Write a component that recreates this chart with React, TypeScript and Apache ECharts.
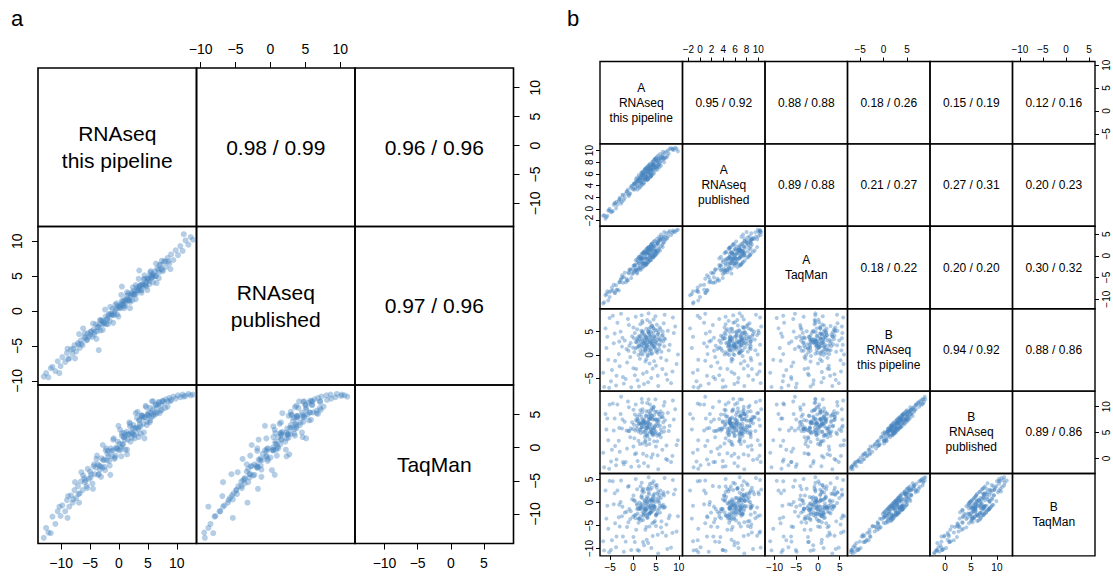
import React, { useEffect, useRef } from "react";
import * as echarts from "echarts";

const FONT = "'Liberation Sans', Arial, Helvetica, sans-serif";

// ---------- Panel a: each gene = [RNAseq this pipeline, RNAseq published, TaqMan]
const panelAGenes: number[][] = [
  [-13.0,-9.4,-13.6],[-12.6,-8.9,-12.1],[-12.2,-9.5,-12.8],[-11.5,-8.0,-10.4],[-11.0,-8.6,-11.5],
  [-10.6,-7.2,-9.6],[-10.1,-7.9,-10.3],[-9.8,-6.6,-8.7],[-9.3,-7.3,-9.6],[-9.0,-6.0,-7.9],
  [-8.6,-6.8,-8.9],[-8.3,-5.5,-7.2],[-8.0,-6.1,-8.3],[-7.7,-4.9,-6.4],[-7.4,-5.8,-7.6],
  [-7.1,-4.6,-5.8],[-6.8,-5.3,-6.9],[-6.6,-4.2,-5.1],[-6.3,-4.9,-6.4],[-6.0,-3.7,-4.6],
  [-5.8,-3.9,-4.9],[-5.6,-4.2,-5.8],[-5.4,-3.2,-3.2],[-5.2,-3.7,-4.7],[-5.0,-3.4,-3.6],
  [-4.8,-2.9,-4.0],[-4.6,-3.7,-5.4],[-4.4,-2.7,-2.8],[-4.2,-3.0,-4.0],[-4.0,-1.9,-3.0],
  [-3.8,-2.9,-1.2],[-3.6,-2.3,-4.1],[-3.4,-2.0,-2.7],[-3.2,-2.8,-2.8],[-3.0,-1.4,-1.6],
  [-2.9,-1.9,-3.0],[-2.7,-1.5,-1.9],[-2.5,-1.8,-2.9],[-2.3,-0.8,-0.4],[-2.1,-1.2,-1.9],
  [-2.0,-1.1,-0.9],[-1.8,-0.6,-1.3],[-1.6,-1.4,-2.7],[-1.4,-0.4,-0.1],[-1.2,-0.6,-1.3],
  [-1.1,0.3,-0.4],[-0.9,-0.6,1.4],[-0.7,0.0,-1.5],[-0.5,0.3,0.0],[-0.3,-0.5,-0.2],
  [-0.2,0.7,0.9],[0.0,0.4,-0.4],[0.1,0.7,0.6],[0.3,0.4,-0.3],[0.5,1.4,2.2],
  [0.6,0.9,0.5],[0.8,1.1,1.6],[1.0,1.6,1.2],[1.1,0.8,-0.3],[1.3,1.7,2.4],
  [1.5,1.5,1.2],[1.6,2.5,2.0],[1.8,1.5,3.8],[2.0,2.1,0.9],[2.1,2.3,2.3],
  [2.3,1.5,2.2],[2.5,2.9,3.4],[2.6,2.4,1.9],[2.8,2.8,3.0],[3.0,2.5,2.1],
  [3.1,3.4,4.5],[3.3,3.0,3.0],[3.5,3.2,4.1],[3.6,3.6,3.5],[3.8,2.9,2.1],
  [4.0,3.8,4.8],[4.2,3.6,3.6],[4.4,4.6,4.6],[4.6,3.7,6.3],[4.8,4.2,3.4],
  [5.0,4.6,4.9],[5.2,3.8,4.8],[5.4,5.1,6.0],[5.6,4.8,4.6],[5.8,5.1,5.7],
  [6.0,4.9,4.8],[6.3,5.0,6.5],[6.6,6.1,5.3],[6.9,5.5,6.8],[7.2,6.6,5.6],
  [7.5,5.9,7.0],[7.8,7.1,6.9],[8.1,6.3,7.3],[8.4,7.6,6.2],[8.7,6.8,7.5],
  [9.0,8.1,7.2],[9.4,7.3,7.7],[9.8,8.7,7.4],[10.2,8.0,7.9],[10.6,9.3,7.6],
  [11.0,8.6,8.0],[11.5,10.1,7.8],[12.0,9.5,8.1],[12.4,10.6,7.9],[11.2,11.0,7.7],
  [12.8,10.2,8.0],[0.5,3.5,1.8],[-3.5,-5.6,-4.0],[3.5,5.8,4.2],[6.5,4.0,6.0],
  [-6.2,-2.5,-4.2],[8.9,6.0,7.0],
  [-4.9,-3.0,-4.5],[-4.3,-3.4,-2.5],[-3.7,-2.3,-2.5],[-3.1,-1.3,-4.4],[-2.6,-1.7,-1.8],
  [-2.2,-1.9,-0.1],[-1.7,-0.4,-2.0],[-1.3,-0.5,-0.5],[-0.8,-0.4,-1.7],[-0.4,1.1,-0.1],
  [0.2,0.6,2.7],[0.4,1.0,0.1],[0.7,1.4,0.5],[0.9,0.7,2.2],[1.2,1.5,1.9],
  [1.4,2.2,-0.3],[1.7,1.6,2.0],[1.9,1.3,3.6],[2.2,2.6,1.5],[2.4,2.4,2.9],
  [2.7,2.3,1.4],[2.9,3.7,2.9],[3.2,2.9,5.4],[3.4,3.4,2.8],[3.7,3.7,3.2],
  [3.9,3.0,4.9],[4.1,3.8,4.5],[4.3,4.5,2.3],[4.5,3.8,4.6],[4.7,3.5,6.1],
  [4.9,4.7,3.9],[5.1,4.5,5.3],[5.3,4.3,3.8],[5.5,5.7,5.3],[5.7,4.8,7.0],
  [5.9,5.3,5.0],[6.1,5.6,5.3],[6.4,5.0,6.4],[6.8,5.9,6.5],[7.0,6.6,5.2],
  [7.3,6.0,6.4],[7.6,5.7,7.1],[8.0,7.1,6.0],[8.5,7.1,7.0],[-5.5,-4.1,-6.1],
  [-5.9,-3.2,-5.2],[-6.5,-4.7,-3.7],[-7.0,-4.8,-7.0],[-7.9,-5.4,-7.8],[-8.8,-6.9,-7.3],
  [-4.5,-1.8,-6.2],[-3.9,-4.0,-1.7],[-3.3,-1.3,-3.3],[-2.8,-2.7,0.4],[-2.4,0.2,-3.4],
  [-1.9,-1.9,-0.5],[-1.5,0.6,-4.1],[-1.0,-1.7,1.2],[-0.6,0.9,-1.2],[-0.1,-0.8,3.3],
  [0.4,2.3,-1.3],[0.9,0.4,1.6],[1.4,2.7,-1.0],[1.9,0.4,3.2],[2.4,3.4,2.1],
  [2.9,1.7,5.2],[3.4,4.6,1.6],[3.9,2.6,4.8],[4.4,5.1,1.4],[4.9,3.0,5.0],
  [5.4,5.5,4.1],[5.9,4.1,7.0],[6.4,6.8,5.1],[6.9,4.7,6.9],[7.4,7.2,5.7],
  [-6.9,-3.3,-8.3],[-7.6,-6.8,-5.2],[-8.9,-5.4,-10.6],[-10.3,-8.9,-8.9],[-11.8,-8.2,-12.9],
];

const panelALabels = ["RNAseq\nthis pipeline", "RNAseq\npublished", "TaqMan"];
const panelACorrelations: string[][] = [
  ["0.98 / 0.99", "0.96 / 0.96"],
  ["0.97 / 0.96"],
];
const panelARanges: number[][] = [[-14.0, 13.4], [-10.6, 12.1], [-14.45, 9.45]];
const panelATicks: number[][] = [[-10, -5, 0, 5, 10], [-10, -5, 0, 5, 10], [-10, -5, 0, 5]];

// ---------- Panel b: each gene = [A pipeline, A published, A TaqMan, B pipeline, B published, B TaqMan]
const panelBGenes: number[][] = [
  [3.2,6.6,-0.7,2.8,6.0,0.1],[2.5,5.1,0.5,3.5,7.6,-1.5],[4.1,7.1,-0.3,2.1,5.0,-1.2],[3.8,6.0,1.6,3.9,7.6,-0.8],
  [1.9,5.8,-1.9,2.2,6.0,-0.3],[4.6,7.0,2.2,3.1,5.8,-1.1],[2.8,5.9,-1.8,1.5,5.9,-1.5],[3.5,7.2,0.6,4.6,7.5,1.8],
  [5.1,7.3,1.1,2.6,6.7,-2.6],[1.4,5.2,-0.6,3.3,6.7,0.0],[2.2,5.2,-1.7,0.9,5.1,-3.8],[4.4,7.7,1.8,4.8,7.5,1.3],
  [3.0,5.3,0.8,2.0,6.4,-3.0],[5.6,8.4,1.8,3.7,7.3,1.1],[2.6,6.3,-1.7,4.2,7.1,-0.2],[3.9,6.2,2.2,1.2,5.5,-2.0],
  [1.2,4.8,-1.8,1.8,5.2,-3.5],[4.9,6.7,1.6,5.3,9.0,0.9],[3.3,6.3,-1.4,3.2,6.8,1.0],[2.0,6.1,-0.5,4.9,7.5,1.0],
  [5.9,8.0,3.5,2.3,6.3,-0.8],[3.6,6.9,-0.1,0.5,3.7,-2.4],[2.9,5.5,0.6,5.6,9.1,0.7],[4.3,7.5,0.0,2.5,5.9,-1.8],
  [1.7,4.7,-0.6,0.3,4.9,-3.0],[5.3,8.0,3.1,4.4,7.3,1.9],[2.4,6.2,-1.7,2.6,6.8,-2.2],[3.1,5.5,0.5,3.7,6.2,0.3],
  [4.7,7.7,0.2,1.6,5.5,-0.8],[6.3,9.0,3.8,4.1,8.0,-0.7],[0.8,4.7,-3.3,2.7,5.8,-0.2],[3.7,6.8,1.3,2.9,6.7,-2.3],
  [2.7,5.0,-0.3,1.1,4.6,-2.5],[4.2,7.6,0.7,3.5,7.7,0.5],[1.6,5.2,-0.2,4.0,6.8,-0.9],[5.0,7.1,0.9,0.8,5.1,-2.9],
  [3.4,6.8,1.4,5.1,8.1,2.1],[2.1,5.2,-1.7,3.0,6.9,-1.3],[4.5,6.8,2.4,2.0,4.8,-0.7],[6.6,8.7,3.0,2.9,7.0,-0.5],
  [0.5,3.6,-2.3,1.4,5.4,-3.4],[3.8,7.3,0.5,6.0,8.7,2.8],[2.3,5.7,0.4,1.9,6.1,-2.6],[5.4,7.2,2.7,3.2,6.2,0.5],
  [1.1,5.1,-3.2,3.8,7.4,-1.3],[4.0,7.0,1.4,4.3,8.2,0.7],[3.2,5.9,1.3,0.0,4.3,-3.3],[6.0,8.7,3.7,5.5,9.1,2.6],
  [2.8,6.2,-0.7,2.4,5.4,-1.2],[4.8,7.2,1.2,3.6,7.5,-1.0],[1.8,4.5,-1.1,5.2,8.1,1.2],[3.5,6.2,1.4,1.7,6.2,-2.6],
  [5.7,8.7,1.5,1.3,4.6,-1.3],[2.6,5.1,-0.3,3.1,6.9,0.2],[4.4,7.5,0.5,5.8,9.4,1.6],[0.3,4.4,-2.2,0.6,3.9,-2.8],
  [3.9,6.8,-0.4,2.7,6.5,0.5],[7.0,8.8,3.7,3.4,7.4,-1.0],[1.5,5.0,-2.5,2.3,5.5,-1.2],[4.2,6.7,1.9,0.4,4.6,-4.5],
  [-6.3,-1.1,-10.7,-6.8,-1.7,-10.4],[-5.8,-1.4,-8.8,1.5,5.6,-3.5],[-5.1,0.0,-9.5,7.9,10.4,4.7],[-4.6,-0.4,-7.3,-3.2,1.7,-8.2],
  [-4.0,1.0,-8.5,4.6,7.7,2.0],[-3.7,0.1,-6.8,-6.5,-1.3,-9.7],[-3.1,1.3,-8.0,0.2,3.4,-3.2],[-2.6,0.9,-5.3,8.8,11.9,4.8],
  [-2.2,2.3,-6.2,-4.7,-0.7,-7.4],[-1.8,1.9,-3.9,3.1,7.1,-2.2],[-1.3,3.0,-5.7,-1.6,1.9,-5.3],[-0.9,2.2,-4.1,6.4,9.9,3.6],
  [-0.4,3.9,-5.1,-6.9,-1.6,-10.3],[0.1,3.5,-2.3,-2.8,2.3,-7.5],[0.6,4.4,-3.3,8.2,10.4,5.1],[1.0,3.9,-1.0,-5.4,-0.5,-10.3],
  [1.5,5.4,-2.9,-0.8,2.8,-3.5],[2.0,4.9,-0.6,7.3,10.8,2.4],[2.4,5.9,-1.1,-6.2,-0.9,-9.3],[3.0,5.4,0.9,-3.6,0.5,-8.1],
  [3.4,6.8,-0.6,8.9,11.4,5.5],[4.0,6.6,1.3,-4.9,0.2,-9.9],[4.5,7.5,0.1,7.6,10.0,4.6],[5.0,8.2,2.5,-2.3,2.3,-5.1],
  [5.5,7.6,3.3,-6.6,-2.1,-11.1],[6.1,8.7,2.2,-0.6,4.1,-5.4],[6.7,8.5,4.5,6.8,10.2,2.2],[7.2,9.8,3.8,-4.1,-0.1,-7.2],
  [7.8,9.5,5.4,1.0,5.3,-3.4],[8.3,10.4,4.8,-6.0,-0.7,-9.8],[8.9,10.1,5.6,4.7,7.5,1.8],[9.5,10.3,5.9,-1.9,2.6,-6.3],
  [-6.0,-1.7,-9.1,5.7,8.6,2.6],[-5.4,-0.3,-10.3,-1.0,3.5,-5.7],[-4.8,-0.6,-8.1,-5.6,-0.6,-10.3],[-4.2,0.7,-6.7,2.5,5.4,-0.4],
  [-3.4,0.7,-7.8,6.9,10.4,2.6],[-2.9,1.9,-6.1,-2.4,1.3,-5.2],[-2.4,1.2,-4.5,1.8,5.8,-3.0],[-1.6,2.6,-6.1,-5.1,-0.7,-8.5],
  [-1.0,2.4,-3.8,0.9,5.3,-4.3],[-0.2,3.9,-4.2,4.0,7.0,0.7],[0.4,3.3,-2.1,-4.3,0.8,-8.6],[0.9,4.7,-3.8,5.5,8.1,2.9],
  [1.3,4.4,-1.7,-6.7,-1.5,-10.5],[1.9,5.7,-0.6,8.5,11.5,4.3],[2.7,5.4,-1.7,-1.4,3.2,-5.9],[3.3,6.5,0.8,-5.8,-1.5,-8.8],
  [3.7,6.0,0.3,7.0,10.4,4.1],[4.3,7.5,2.2,-2.9,0.8,-7.3],[4.9,7.2,1.1,8.3,11.4,3.7],[5.4,8.3,2.8,-4.4,0.6,-7.0],
  [5.8,7.6,4.0,5.9,8.6,1.7],[6.4,8.9,2.6,-3.0,1.7,-6.5],[6.9,9.6,4.4,8.6,10.9,5.3],[7.5,9.1,4.1,-5.3,-0.3,-10.1],
  [8.0,10.3,5.7,2.2,6.3,-2.8],[8.6,10.2,5.3,-3.5,0.5,-6.6],[9.2,10.5,5.5,6.1,9.5,2.8],[9.8,9.9,6.0,0.1,3.5,-3.0],
  [-6.5,-1.2,-11.0,-3.8,1.1,-8.4],[-5.6,-1.2,-8.2,3.9,7.7,-0.7],[-4.4,-0.4,-8.0,8.4,10.6,4.6],[-3.9,0.9,-8.6,-1.2,2.4,-4.5],
  [-2.0,1.5,-4.9,-6.1,-1.1,-10.7],[-1.1,3.3,-5.7,7.7,11.0,3.4],[0.0,3.3,-2.9,1.6,5.7,-3.1],[0.7,4.7,-3.1,-3.0,1.0,-5.9],
  [1.6,4.4,-0.8,6.6,9.3,3.5],[2.2,5.9,-2.3,-4.0,0.9,-8.6],[7.6,10.0,4.5,5.2,8.8,2.2],[8.7,10.3,5.8,8.0,11.2,4.9],
  [-5.2,-0.3,-8.4,-7.0,-2.0,-10.8],[6.2,8.2,4.2,0.7,5.0,-4.1],[-0.6,2.6,-3.1,-0.4,4.1,-3.6],[5.2,8.2,1.0,6.5,9.0,3.8],
  [0.2,4.3,-3.6,3.6,6.5,0.5],[-2.7,1.7,-5.6,5.0,8.6,0.1],[7.3,8.8,5.2,-1.1,2.5,-4.8],[-3.6,1.2,-7.9,-4.4,-0.2,-7.4],
  [-0.5,3.6,-3.4,2.6,5.8,-1.9],[0.9,3.9,-1.5,3.4,7.2,-1.4],[-1.4,3.0,-5.3,1.3,5.4,-2.0],[1.2,5.0,-2.7,0.0,3.4,-4.4],
  [-2.3,2.4,-5.0,3.7,7.5,-0.9],[0.4,4.2,-3.5,4.7,8.5,0.4],[-0.8,2.7,-3.2,2.0,5.3,-1.4],[1.7,5.6,-1.2,2.9,6.8,-0.6],
  [6.8,8.7,3.1,1.9,5.2,-1.1],[5.6,7.7,3.4,4.9,8.6,0.3],[3.6,7.0,0.0,-1.8,2.8,-5.2],[2.9,5.6,0.5,-0.9,2.6,-5.3],
  [4.6,7.6,0.9,-1.3,3.3,-4.3],[2.1,5.7,-0.6,6.9,9.5,2.7],[3.1,6.4,-0.8,7.5,10.7,3.0],[4.1,6.5,1.4,6.3,9.7,3.2],
  [-3.0,1.6,-6.1,2.9,5.9,-0.5],[5.3,7.3,2.9,1.0,4.4,-2.4],[0.1,4.2,-4.0,5.9,9.4,1.5],[6.5,9.3,3.9,5.0,8.0,1.8],
  [3.0,7.1,-1.9,3.3,5.8,1.2],[2.3,4.5,0.8,2.5,7.2,-2.9],[4.4,6.0,-0.4,1.8,4.5,-0.6],[3.6,7.6,2.1,4.2,8.6,-1.3],
  [1.9,4.1,-3.0,3.6,6.0,1.5],[5.0,8.7,0.4,2.9,7.5,-2.6],[2.7,6.8,1.3,0.7,3.4,-1.6],[3.9,5.6,-1.0,5.0,9.3,-0.5],
  [4.7,8.5,3.4,3.9,6.2,1.9],[1.3,5.8,-0.3,2.0,6.8,-3.6],[3.3,5.1,1.9,1.2,5.9,-1.0],[5.5,9.1,0.9,4.5,6.8,2.4],
  [2.0,6.3,0.5,4.6,8.9,-0.9],[4.1,5.8,2.8,2.4,4.9,0.2],[2.9,7.0,-2.0,3.8,8.2,-1.7],[6.1,7.4,4.9,3.1,5.6,1.0],
  [0.9,5.4,-4.1,1.6,6.3,-0.6],[3.5,5.3,2.0,5.6,7.7,3.5],[4.8,8.5,0.1,1.5,6.2,-4.0],[2.5,6.7,1.0,2.7,5.2,0.5],
  [3.8,5.5,-1.0,3.4,7.9,-2.1],[5.2,8.9,3.9,5.3,7.5,3.2],[1.6,3.8,-3.3,0.9,5.7,-1.4],[4.3,8.1,-0.4,3.0,5.5,0.8],
  [3.1,5.0,1.6,2.2,6.9,-3.3],[6.5,9.8,2.0,4.3,8.7,-1.1],[2.2,6.4,-2.6,5.1,7.3,3.0],[4.0,5.7,2.6,0.2,5.1,-2.1],
  [3.4,7.4,-1.4,4.8,9.1,-0.6],[5.7,7.1,4.4,2.1,4.7,-0.1],[1.0,3.3,-0.6,3.1,7.6,-2.4],[2.6,6.8,-2.3,1.4,4.1,-0.8],
  [4.6,6.2,3.3,4.0,8.4,-1.5],[3.7,7.7,-1.1,2.6,5.1,0.4],[0.6,5.1,-1.0,2.8,7.4,-2.7],[5.3,6.7,0.6,0.5,3.3,-1.7],
  [2.4,4.4,0.9,4.4,6.6,2.3],[3.2,7.3,-1.6,-0.2,4.8,-2.5],[4.2,8.0,2.9,6.2,8.2,4.2],[1.4,3.6,-0.2,4.1,8.5,-1.4],
  [6.8,8.0,5.5,3.6,6.0,1.5],[2.8,6.9,-2.1,3.9,8.3,-1.6],[3.9,5.6,2.5,1.0,5.8,-1.2],[4.9,8.6,0.1,2.3,4.8,0.1],
  [1.8,6.2,0.3,1.7,6.5,-3.9],[3.3,5.1,1.9,4.9,7.1,2.9],[5.9,9.4,1.2,3.3,7.9,-2.2],[2.1,4.2,0.6,0.1,2.9,-2.1],
  [4.5,8.3,-0.3,5.7,9.9,0.3],[3.0,4.9,1.6,1.9,4.5,-0.2],
];

const panelBLabels = [
  "A\nRNAseq\nthis pipeline", "A\nRNAseq\npublished", "A\nTaqMan",
  "B\nRNAseq\nthis pipeline", "B\nRNAseq\npublished", "B\nTaqMan",
];
const panelBCorrelations: string[][] = [
  ["0.95 / 0.92", "0.88 / 0.88", "0.18 / 0.26", "0.15 / 0.19", "0.12 / 0.16"],
  ["0.89 / 0.88", "0.21 / 0.27", "0.27 / 0.31", "0.20 / 0.23"],
  ["0.18 / 0.22", "0.20 / 0.20", "0.30 / 0.32"],
  ["0.94 / 0.92", "0.88 / 0.86"],
  ["0.89 / 0.86"],
];
const panelBRanges: number[][] = [
  [-7.2, 10.8], [-3.0, 11.15], [-12.2, 6.8], [-7.7, 9.9], [-2.9, 13.0], [-11.6, 6.3],
];
const panelBTicks: number[][] = [
  [-5, 0, 5, 10], [-2, 0, 2, 4, 6, 8, 10], [-10, -5, 0, 5], [-5, 0, 5], [0, 5, 10], [-10, -5, 0, 5],
];

const panelTitles = ["a", "b"];

type Spec = {
  left: number; top: number; cellW: number; cellH: number;
  genes: number[][]; ranges: number[][]; ticks: number[][];
  labels: string[]; correlations: string[][];
  textSize: number; textLine: number; axisSize: number;
  tickLen: number; marginTB: number; marginLR: number;
  pointSize: number; pointColor: string; border: number;
};

const fmt = (v: number) => (v < 0 ? "\u2212" + Math.abs(v) : String(v));

function makeAxis(gi: number, range: number[], ticks: number[], show: boolean, position: string, spec: Spec, vertical: boolean) {
  return {
    type: "value",
    gridIndex: gi,
    min: range[0],
    max: range[1],
    position,
    axisLine: { show: false, onZero: false },
    splitLine: { show: false },
    axisTick: { show, customValues: ticks, length: spec.tickLen, lineStyle: { color: "#000", width: 1 } },
    axisLabel: {
      show,
      customValues: ticks,
      formatter: fmt,
      color: "#000",
      fontSize: spec.axisSize,
      fontFamily: FONT,
      margin: vertical ? spec.marginLR : spec.marginTB,
      rotate: vertical ? 90 : 0,
      hideOverlap: false,
    },
  };
}

function buildMatrix(spec: Spec, grids: any[], xAxes: any[], yAxes: any[], series: any[], graphics: any[]) {
  const n = spec.labels.length;
  for (let r = 0; r < n; r++) {
    for (let c = 0; c < n; c++) {
      const gi = grids.length;
      const x0 = spec.left + c * spec.cellW;
      const y0 = spec.top + r * spec.cellH;
      grids.push({
        left: x0, top: y0, width: spec.cellW, height: spec.cellH,
        show: true, borderColor: "#000", borderWidth: spec.border, backgroundColor: "transparent",
      });
      const onTop = r === 0 && c % 2 === 1;
      const onBottom = r === n - 1 && c % 2 === 0;
      const onLeft = c === 0 && r % 2 === 1;
      const onRight = c === n - 1 && r % 2 === 0;
      xAxes.push(makeAxis(gi, spec.ranges[c], spec.ticks[c], onTop || onBottom, onTop ? "top" : "bottom", spec, false));
      yAxes.push(makeAxis(gi, spec.ranges[r], spec.ticks[r], onLeft || onRight, onRight ? "right" : "left", spec, true));
      const cx = x0 + spec.cellW / 2;
      const cy = y0 + spec.cellH / 2;
      if (r > c) {
        series.push({
          type: "scatter",
          xAxisIndex: gi,
          yAxisIndex: gi,
          data: spec.genes.map((g) => [g[c], g[r]]),
          symbol: "circle",
          symbolSize: spec.pointSize,
          itemStyle: { color: spec.pointColor },
          silent: true,
          clip: true,
        });
      } else {
        const text = r === c ? spec.labels[r] : spec.correlations[r][c - r - 1];
        graphics.push({
          type: "text",
          x: cx,
          y: cy,
          silent: true,
          style: {
            text,
            fill: "#000",
            fontSize: spec.textSize,
            fontFamily: FONT,
            lineHeight: spec.textLine,
            align: "center",
            verticalAlign: "middle",
          },
        });
      }
    }
  }
}

export default function App() {
  const ref = useRef<HTMLDivElement>(null);
  useEffect(() => {
    if (!ref.current) return;
    const chart = echarts.init(ref.current, undefined, { renderer: "svg" });
    const grids: any[] = [];
    const xAxes: any[] = [];
    const yAxes: any[] = [];
    const series: any[] = [];
    const graphics: any[] = [];

    buildMatrix({
      left: 38, top: 68, cellW: 158.5, cellH: 158.5,
      genes: panelAGenes, ranges: panelARanges, ticks: panelATicks,
      labels: panelALabels, correlations: panelACorrelations,
      textSize: 21, textLine: 27, axisSize: 14,
      tickLen: 6, marginTB: 12, marginLR: 14,
      pointSize: 6, pointColor: "rgba(70,132,192,0.5)", border: 1.6,
    }, grids, xAxes, yAxes, series, graphics);

    buildMatrix({
      left: 600, top: 61.5, cellW: 82.5, cellH: 82.4,
      genes: panelBGenes, ranges: panelBRanges, ticks: panelBTicks,
      labels: panelBLabels, correlations: panelBCorrelations,
      textSize: 12, textLine: 15, axisSize: 10,
      tickLen: 4, marginTB: 7, marginLR: 6,
      pointSize: 4, pointColor: "rgba(70,132,192,0.55)", border: 1.4,
    }, grids, xAxes, yAxes, series, graphics);

    graphics.push({
      type: "text", x: 11, y: 18, silent: true,
      style: { text: panelTitles[0], fill: "#000", fontSize: 22, fontFamily: FONT, align: "left", verticalAlign: "middle" },
    });
    graphics.push({
      type: "text", x: 567, y: 18, silent: true,
      style: { text: panelTitles[1], fill: "#000", fontSize: 22, fontFamily: FONT, align: "left", verticalAlign: "middle" },
    });

    chart.setOption({
      animation: false,
      backgroundColor: "#fff",
      grid: grids,
      xAxis: xAxes,
      yAxis: yAxes,
      series,
      graphic: graphics,
    });
    return () => chart.dispose();
  }, []);
  return (
    <div
      ref={ref}
      style={{ position: "absolute", left: 0, top: 0, width: 1113, height: 576, background: "#fff" }}
    />
  );
}
